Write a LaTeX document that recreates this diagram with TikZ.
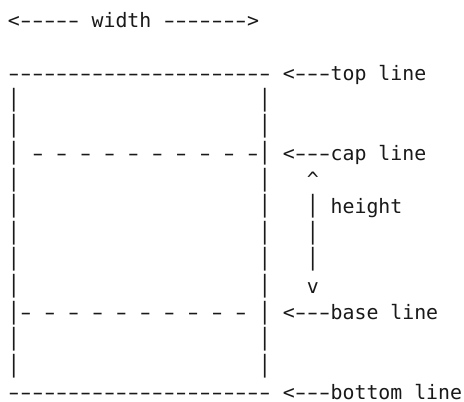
\documentclass[tikz,border=0pt]{standalone}
\usepackage{fontspec}
\usepackage{graphicx}
\newfontfamily\asciimono{DejaVu Sans Mono}[Ligatures=TeXOff]
\definecolor{asciiink}{RGB}{25, 25, 25}

\tikzset{
  ascii/.style={anchor=base west, inner sep=0pt, outer sep=0pt, text=asciiink,
    text depth=0pt, font=\asciimono\fontsize{19.85pt}{26.6pt}\selectfont},
}
% barra vertical un poco mas alta, para que las filas se junten
\newcommand{\tallbar}{\raisebox{0.5pt}{\scalebox{1}[1.2]{|}}}
% guion ancho, en una celda de la fuente mono
\newcommand{\hy}{\makebox[0.602em]{\scalebox{1.6}[1]{-}}}
\newcommand{\hys}[1]{\foreach \i in {1,...,#1}{\hy}}
\newcommand{\hysp}[1]{\foreach \i in {1,...,#1}{\hy\ }}

\begin{document}
\begin{tikzpicture}[x=11.95pt, y=-26.6pt]
\useasboundingbox (-8pt, 27pt) rectangle (456pt, -375pt);

% ============================================================
% ANCHO (arriba)
% ============================================================
\node[ascii] (lbl-width) at (0, 0) {<\hys{5}\ width \hys{7}>};

% ============================================================
% CAJA: lineas horizontales
% ============================================================
\node[ascii] (rule-top) at (0, 2) {\hys{22}};
\node[ascii] (rule-cap) at (2, 5) {\hysp{9}\hy};
\node[ascii] (rule-base) at (1, 11) {\hysp{9}\hy};
\node[ascii] (rule-bottom) at (0, 14) {\hys{22}};

% --- lados de la caja ---
\foreach \r in {3,...,13} {
  \node[ascii] (bar-l\r) at (0, \r) {\tallbar};
  \node[ascii] (bar-r\r) at (21, \r) {\tallbar};
}

% ============================================================
% ETIQUETAS (derecha)
% ============================================================
\node[ascii] (lbl-top) at (23, 2) {<\hys{3}top line};
\node[ascii] (lbl-cap) at (23, 5) {<\hys{3}cap line};
\node[ascii] (lbl-base) at (23, 11) {<\hys{3}base line};
\node[ascii] (lbl-bottom) at (23, 14) {<\hys{3}bottom line};

% --- altura ---
\node[ascii] (hgt-up) at (25, 6) {\textasciicircum};
\foreach \r in {7,8,9}
  \node[ascii] (hgt-bar\r) at (25, \r) {\tallbar};
\node[ascii] (hgt-down) at (25, 10) {v};
\node[ascii] (lbl-height) at (27, 7) {height};

\end{tikzpicture}
\end{document}
